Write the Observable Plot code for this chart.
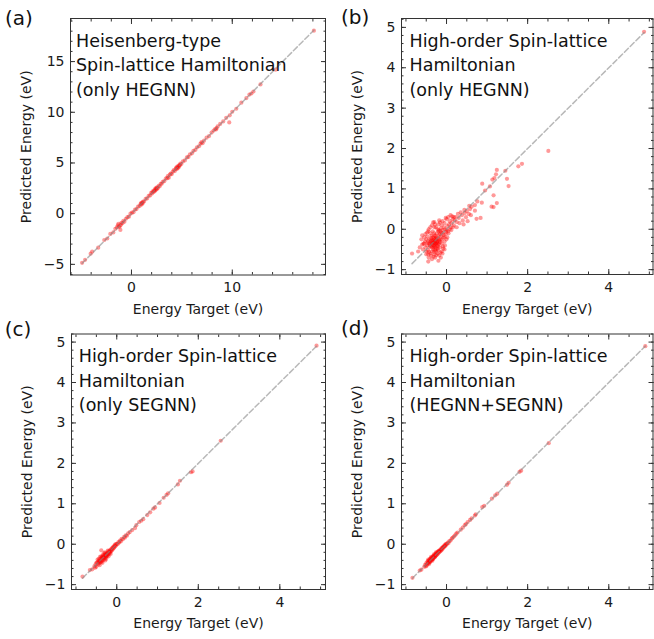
<!DOCTYPE html>
<html><head><meta charset="utf-8">
<script src="https://cdn.jsdelivr.net/npm/d3@7"></script>
<script src="https://cdn.jsdelivr.net/npm/@observablehq/plot@0.6"></script>
<style>
html,body{margin:0;padding:0;background:#fff;}
#fig{position:relative;width:654px;height:639px;overflow:hidden;background:#fff;}
#fig > svg{position:absolute;margin:0;}
</style></head><body><div id="fig"></div>
<script>
// ---- data: [energy target, predicted energy] in eV ----
const aPairs = [
[-4.9,-4.85],[-4.6,-4.55],[-4.05,-3.95],[-3.9,-3.75],[-3.3,-3.35],[-2.7,-2.6],[-2.4,-2.45],[-2.1,-2.0],[-1.8,-1.85],[-1.6,-1.5],
[-1.45,-1.35],[-1.35,-1.15],[-1.3,-1.0],[-1.25,-1.3],[-1.15,-1.25],[-1.1,-1.6],[-1.05,-1.1],[-1.0,-0.9],[-0.9,-0.95],[-0.8,-0.7],
[-0.7,-0.8],[-0.55,-0.5],[-0.4,-0.35],[-0.25,-0.3],[-0.1,0.0],[0.05,0.1],[0.2,0.15],[0.35,0.4],[0.5,0.45],[0.65,0.7],
[0.8,0.75],[0.9,0.95],[0.95,1.05],[1.0,0.9],[1.05,1.1],[1.1,1.0],[1.15,1.2],[1.25,1.2],[1.4,1.45],[1.55,1.5],
[1.7,1.75],[1.85,1.8],[1.95,2.05],[2.05,2.0],[2.1,2.2],[2.2,2.15],[2.25,2.3],[2.3,2.2],[2.35,2.45],[2.4,2.35],
[2.45,2.55],[2.5,2.4],[2.55,2.6],[2.6,2.5],[2.7,2.75],[2.8,2.7],[2.9,2.95],[3.0,2.95],[3.1,3.15],[3.25,3.2],
[3.4,3.45],[3.55,3.5],[3.6,3.7],[3.7,3.55],[3.8,3.85],[3.9,3.95],[4.0,3.9],[4.1,4.15],[4.2,4.3],[4.3,4.2],
[4.4,4.45],[4.45,4.55],[4.5,4.4],[4.55,4.65],[4.6,4.5],[4.65,4.7],[4.7,4.6],[4.75,4.8],[4.8,4.75],[4.85,4.95],
[4.95,4.9],[5.1,5.15],[5.3,5.25],[5.5,5.55],[5.65,5.6],[5.8,5.85],[6.0,5.95],[6.15,6.2],[6.35,6.3],[6.5,6.55],
[6.7,6.65],[6.85,6.9],[6.95,7.05],[7.05,6.95],[7.2,7.2],[7.45,7.5],[7.7,7.65],[7.95,8.0],[8.15,8.2],[8.3,8.35],
[8.4,8.3],[8.45,8.45],[8.55,8.6],[8.8,8.85],[9.1,9.1],[9.4,9.45],[9.7,9.0],[9.75,9.7],[10.0,10.05],[10.4,10.35],
[10.9,10.95],[11.4,11.4],[11.7,11.75],[11.9,11.85],[12.1,12.05],[12.8,12.75],[14.3,14.2],[18.1,18.05]
];
const bPairs = [
[-0.35,-0.30],[-0.30,-0.25],[-0.28,-0.35],[-0.32,-0.40],[-0.25,-0.20],[-0.22,-0.30],[-0.38,-0.22],[-0.40,-0.35],[-0.27,-0.45],[-0.20,-0.38],
[-0.33,-0.50],[-0.18,-0.15],[-0.24,-0.10],[-0.30,-0.15],[-0.42,-0.45],[-0.36,-0.55],[-0.26,-0.55],[-0.15,-0.25],[-0.12,-0.35],[-0.45,-0.30],
[-0.48,-0.40],[-0.50,-0.25],[-0.40,-0.10],[-0.34,-0.05],[-0.20,-0.05],[-0.10,-0.10],[-0.08,-0.20],[-0.16,-0.45],[-0.22,-0.60],[-0.30,-0.62],
[-0.40,-0.60],[-0.46,-0.52],[-0.52,-0.45],[-0.55,-0.35],[-0.28,-0.70],[-0.18,-0.65],[-0.12,-0.55],[-0.05,-0.30],[-0.02,-0.12],[0.00,-0.02],
[-0.06,0.05],[-0.14,0.02],[-0.26,0.05],[-0.36,0.10],[-0.44,0.00],[-0.52,-0.12],[-0.58,-0.50],[-0.62,-0.25],[-0.24,-0.40],[-0.30,-0.32],
[-0.34,-0.20],[-0.26,-0.28],[-0.20,-0.24],[-0.38,-0.42],[-0.32,-0.46],[-0.28,-0.52],[-0.22,-0.48],[-0.16,-0.32],[-0.14,-0.18],[-0.10,-0.02],
[-0.04,0.00],[0.02,0.08],[0.04,-0.05],[0.06,0.12],[0.10,0.05],[0.08,0.20],[0.12,0.15],[0.15,0.25],[0.18,0.10],[0.20,0.22],
[0.02,-0.20],[-0.04,-0.40],[-0.08,-0.48],[-0.44,-0.70],[-0.36,-0.74],[-0.20,-0.78],[-0.50,-0.62],[-0.60,-0.38],[-0.66,-0.45],[-0.47,-0.18],
[-0.42,-0.25],[-0.36,-0.35],[-0.30,-0.42],[-0.24,-0.34],[-0.18,-0.28],[-0.12,-0.26],[-0.27,-0.24],[-0.33,-0.28],[-0.39,-0.30],[-0.35,-0.38],
[-0.29,-0.38],[-0.23,-0.22],[-0.17,-0.12],[-0.31,-0.10],[-0.37,-0.16],[-0.41,-0.40],[-0.31,-0.56],[-0.25,-0.64],[-0.15,-0.58],[-0.09,-0.42],
[-0.43,-0.56],[-0.47,-0.34],[-0.53,-0.30],[-0.21,-0.42],[-0.27,-0.16],[-0.19,-0.02],[-0.13,-0.08],[-0.07,-0.14],[-0.01,-0.06],[-0.32,-0.34],
[-0.26,-0.36],[-0.29,-0.29],[-0.23,-0.31],[-0.35,-0.45],[-0.21,-0.52],[-0.37,-0.27],[-0.43,-0.35],[-0.19,-0.35],[-0.25,-0.48],[-0.31,-0.21],
[-0.45,-0.05],[-0.40,0.05],[-0.30,0.05],[-0.22,0.00],[-0.15,-0.05],[-0.05,-0.20],[0.00,-0.25],[-0.50,-0.55],[-0.55,-0.20],[-0.48,-0.08],
[-0.38,-0.65],[-0.10,-0.60],[-0.05,-0.50],[0.05,-0.10],[0.08,0.00],[-0.28,0.12],[-0.12,0.10],[-0.45,-0.62],[-0.32,-0.68],[-0.14,-0.70],
[-0.60,-0.15],[0.12,-0.02],[0.16,0.05],[-0.18,0.22],[-0.02,0.28],
[0.22,0.30],[0.14,0.32],[0.00,0.25],[-0.05,0.15],[-0.20,0.12],[-0.30,0.18],[-0.10,0.20],[-0.33,0.17],[-0.16,0.17],[0.04,0.30],
[0.10,0.35],[0.25,0.18],[0.30,0.28],[0.32,0.15],[0.38,0.35],[0.40,0.22],[0.45,0.40],[0.48,0.30],[0.50,0.45],[0.55,0.38],
[0.58,0.50],[0.60,0.35],[0.35,0.42],[0.28,0.38],[0.42,0.12],[0.52,0.20],[0.25,0.05],[0.18,0.30],[0.44,0.48],[0.56,0.58],
[0.70,0.46],[0.74,0.26],[0.84,0.28],[0.76,0.69],[0.87,0.66],[0.62,0.56],[0.70,0.60],
[0.88,1.13],[0.95,0.96],[1.07,1.06],[1.13,1.23],[1.18,1.27],[1.22,1.36],[1.24,1.47],[1.45,1.45],[1.49,1.25],[1.53,1.07],
[1.16,0.84],[1.24,0.65],[1.16,0.55],[1.11,0.56],[1.77,1.56],[1.86,1.62],[2.51,1.94],[4.87,4.89],[-0.85,-0.60],[-0.45,-0.80],
[-0.57,-0.36],[-0.70,-0.55]
];
const cPairs = [
[-0.84,-0.80],[-0.66,-0.64],[-0.60,-0.62],[-0.55,-0.55],[-0.52,-0.50],[-0.50,-0.56],[-0.50,-0.46],[-0.48,-0.45],[-0.47,-0.38],[-0.46,-0.50],
[-0.45,-0.42],[-0.44,-0.36],[-0.43,-0.47],[-0.42,-0.40],[-0.42,-0.52],[-0.41,-0.31],[-0.40,-0.44],[-0.40,-0.36],[-0.38,-0.40],[-0.38,-0.30],
[-0.38,-0.15],[-0.37,-0.33],[-0.36,-0.42],[-0.35,-0.37],[-0.35,-0.46],[-0.34,-0.30],[-0.34,-0.26],[-0.33,-0.39],[-0.32,-0.34],[-0.31,-0.28],
[-0.31,-0.22],[-0.30,-0.36],[-0.30,-0.31],[-0.29,-0.25],[-0.29,-0.20],[-0.28,-0.33],[-0.28,-0.40],[-0.27,-0.29],[-0.26,-0.23],[-0.26,-0.36],
[-0.25,-0.31],[-0.25,-0.27],[-0.24,-0.22],[-0.23,-0.28],[-0.22,-0.24],[-0.22,-0.16],[-0.21,-0.18],[-0.20,-0.25],[-0.20,-0.30],[-0.19,-0.20],
[-0.18,-0.16],[-0.17,-0.22],[-0.16,-0.17],[-0.15,-0.13],[-0.15,-0.24],[-0.14,-0.18],[-0.13,-0.12],[-0.12,-0.15],[-0.11,-0.09],[-0.10,-0.13],
[-0.09,-0.07],[-0.08,-0.10],[-0.07,-0.05],[-0.06,-0.08],[-0.05,-0.02],[-0.04,-0.05],[-0.03,0.00],[-0.02,-0.03],[0.00,0.01],[0.02,0.00],
[0.04,0.05],[0.06,0.04],[0.08,0.09],[0.10,0.07],[0.12,0.13],[0.15,0.12],[0.18,0.18],[0.20,0.16],[0.22,0.22],[0.25,0.21],
[0.28,0.27],[0.32,0.30],[0.38,0.35],[0.45,0.40],[0.48,0.47],[0.55,0.55],[0.60,0.58],[0.65,0.62],[0.75,0.72],[0.82,0.79],
[0.90,0.88],[0.94,0.91],[1.05,1.02],[1.15,1.15],[1.22,1.22],[1.26,1.26],[1.50,1.48],[1.55,1.57],[1.82,1.78],[1.86,1.80],
[2.55,2.56],[4.90,4.91],[-0.53,-0.58],[-0.44,-0.44],[-0.36,-0.34],[-0.33,-0.32],[-0.27,-0.26],[-0.24,-0.25],[-0.18,-0.20],[-0.39,-0.45]
];
const dPairs = [
[-0.84,-0.83],[-0.66,-0.65],[-0.62,-0.63],[-0.55,-0.56],[-0.53,-0.51],[-0.51,-0.55],[-0.50,-0.47],[-0.48,-0.50],[-0.47,-0.43],[-0.46,-0.47],
[-0.45,-0.41],[-0.44,-0.46],[-0.43,-0.40],[-0.42,-0.44],[-0.41,-0.37],[-0.40,-0.42],[-0.40,-0.36],[-0.39,-0.40],[-0.38,-0.34],[-0.37,-0.39],
[-0.36,-0.33],[-0.36,-0.38],[-0.35,-0.35],[-0.34,-0.31],[-0.33,-0.36],[-0.33,-0.30],[-0.32,-0.33],[-0.31,-0.28],[-0.30,-0.33],[-0.30,-0.29],
[-0.29,-0.26],[-0.28,-0.30],[-0.27,-0.25],[-0.27,-0.29],[-0.26,-0.23],[-0.25,-0.27],[-0.24,-0.22],[-0.24,-0.26],[-0.23,-0.20],[-0.22,-0.24],
[-0.21,-0.19],[-0.20,-0.22],[-0.19,-0.17],[-0.18,-0.20],[-0.17,-0.15],[-0.16,-0.18],[-0.15,-0.13],[-0.14,-0.16],[-0.13,-0.11],[-0.12,-0.14],
[-0.11,-0.09],[-0.10,-0.12],[-0.09,-0.07],[-0.08,-0.09],[-0.07,-0.05],[-0.06,-0.07],[-0.05,-0.03],[-0.04,-0.05],[-0.03,-0.01],[-0.02,-0.03],
[-0.01,0.01],[0.01,0.00],[0.03,0.04],[0.05,0.03],[0.07,0.08],[0.10,0.09],[0.13,0.14],[0.15,0.16],[0.18,0.19],[0.21,0.22],
[0.24,0.26],[0.27,0.29],[0.35,0.36],[0.40,0.41],[0.45,0.47],[0.48,0.50],[0.52,0.55],[0.58,0.60],[0.62,0.64],[0.70,0.71],
[0.72,0.74],[0.88,0.92],[0.93,0.95],[1.12,1.13],[1.20,1.21],[1.25,1.25],[1.49,1.47],[1.53,1.52],[1.80,1.79],[1.84,1.82],
[2.52,2.50],[4.90,4.90],[-0.49,-0.53],[-0.41,-0.45],[-0.34,-0.37],[-0.29,-0.32],[-0.45,-0.38],[-0.38,-0.31],[-0.31,-0.25],[-0.26,-0.20],
[-0.20,-0.17],[-0.35,-0.41],[-0.43,-0.49]
];

// ---- tick labels ----
const aXTicks = [0, 10];
const aYTicks = [-5, 0, 5, 10, 15];
const hoXTicks = [0, 2, 4];
const hoYTicks = [-1, 0, 1, 2, 3, 4, 5];

// ---- texts ----
const letters = ["(a)", "(b)", "(c)", "(d)"];
const notes = [
  "Heisenberg-type\nSpin-lattice Hamiltonian\n(only HEGNN)",
  "High-order Spin-lattice\nHamiltonian\n(only HEGNN)",
  "High-order Spin-lattice\nHamiltonian\n(only SEGNN)",
  "High-order Spin-lattice\nHamiltonian\n(HEGNN+SEGNN)"
];
const xLabel = "Energy Target (eV)";
const yLabel = "Predicted Energy (eV)";

const aMinorX = d3.range(-6, 19.1, 2);
const aMinorY = d3.range(-6, 19.1, 1);
const hoMinorX = d3.range(-1, 5.1, 0.5);
const hoMinorY = d3.range(-1, 5.21, 0.2);

const panels = [
  {pairs: aPairs, letter: letters[0], note: notes[0], left: 0, top: 0, w: 330, h: 318,
   mL: 70, mR: 5, mT: 18, mB: 43.5, xd: [-6.05, 19.25], yd: [-6.05, 19.25],
   xt: aXTicks, yt: aYTicks, xm: aMinorX, ym: aMinorY, lDx: -65.5, lDy: -8, nDx: 5.5, xlDy: 34.5},
  {pairs: bPairs, letter: letters[1], note: notes[1], left: 330, top: 0, w: 330, h: 318,
   mL: 71, mR: 7.5, mT: 18, mB: 44, xd: [-1.11, 5.09], yd: [-1.12, 5.22],
   xt: hoXTicks, yt: hoYTicks, xm: hoMinorX, ym: hoMinorY, lDx: -60.5, lDy: -8.7, nDx: 8, xlDy: 35},
  {pairs: cPairs, letter: letters[2], note: notes[2], left: 0, top: 318, w: 330, h: 321,
   mL: 71, mR: 5, mT: 15.5, mB: 50, xd: [-1.11, 5.12], yd: [-1.12, 5.2],
   xt: hoXTicks, yt: hoYTicks, xm: hoMinorX, ym: hoMinorY, lDx: -66.8, lDy: -12, nDx: 7.3, xlDy: 34},
  {pairs: dPairs, letter: letters[3], note: notes[3], left: 330, top: 318, w: 330, h: 321,
   mL: 71, mR: 7.5, mT: 15.5, mB: 50, xd: [-1.11, 5.09], yd: [-1.12, 5.2],
   xt: hoXTicks, yt: hoYTicks, xm: hoMinorX, ym: hoMinorY, lDx: -60.5, lDy: -13.5, nDx: 8, xlDy: 34}
];

const ink = "#333";
function tickMarks(xs, ys, len) {
  return [
    Plot.axisX(xs, {anchor: "bottom", tickSize: len, dy: -len, fill: "none", stroke: ink, label: null}),
    Plot.axisX(xs, {anchor: "top", tickSize: len, dy: len, fill: "none", stroke: ink, label: null}),
    Plot.axisY(ys, {anchor: "left", tickSize: len, dx: len, fill: "none", stroke: ink, label: null}),
    Plot.axisY(ys, {anchor: "right", tickSize: len, dx: -len, fill: "none", stroke: ink, label: null})
  ];
}

function makePanel(p) {
  const data = p.pairs.map(([t, e]) => ({t, e}));
  const [lo, hi] = d3.extent(data, d => d.t);
  const diag = [{t: lo, e: lo}, {t: hi, e: hi}];
  const svg = Plot.plot({
    width: p.w, height: p.h,
    marginLeft: p.mL, marginRight: p.mR, marginTop: p.mT, marginBottom: p.mB,
    x: {domain: p.xd, label: null},
    y: {domain: p.yd, label: null},
    style: {fontFamily: "'DejaVu Sans', sans-serif", fontSize: "14px", color: "#1a1a1a", background: "transparent"},
    marks: [
      Plot.dot(data, {x: "t", y: "e", r: 2.1, fill: "red", fillOpacity: 0.4, stroke: "none"}),
      Plot.line(diag, {x: "t", y: "e", stroke: "#888", strokeOpacity: 0.6, strokeWidth: 1.5, strokeDasharray: "5.5,2.6"}),
      ...tickMarks(p.xm, p.ym, 2.5),
      ...tickMarks(p.xt, p.yt, 5),
      Plot.frame({stroke: ink, strokeWidth: 1}),
      Plot.axisX(p.xt, {anchor: "bottom", tickSize: 0, tickPadding: 7.5, label: null, fill: "#1a1a1a", fontSize: 14}),
      Plot.axisY(p.yt, {anchor: "left", tickSize: 0, tickPadding: 6, label: null, fill: "#1a1a1a", fontSize: 14}),
      Plot.text([xLabel], {frameAnchor: "bottom", lineAnchor: "middle", textAnchor: "middle", dy: p.xlDy, fontSize: 14, fill: "#1a1a1a"}),
      Plot.text([yLabel], {frameAnchor: "left", lineAnchor: "middle", textAnchor: "middle", rotate: -90, dx: -43.5, fontSize: 14, fill: "#1a1a1a"}),
      Plot.text([p.note], {frameAnchor: "top-left", textAnchor: "start", lineAnchor: "top", dx: p.nDx, dy: 11, fontSize: 17.5, lineHeight: 1.4, fill: "#111"}),
      Plot.text([p.letter], {frameAnchor: "top-left", textAnchor: "start", lineAnchor: "top", dx: p.lDx, dy: p.lDy, fontSize: 20, fill: "#111"})
    ]
  });
  svg.style.position = "absolute";
  svg.style.left = p.left + "px";
  svg.style.top = p.top + "px";
  svg.style.overflow = "visible";
  return svg;
}

const fig = document.getElementById("fig");
panels.forEach(p => fig.appendChild(makePanel(p)));
</script>
</body></html>
